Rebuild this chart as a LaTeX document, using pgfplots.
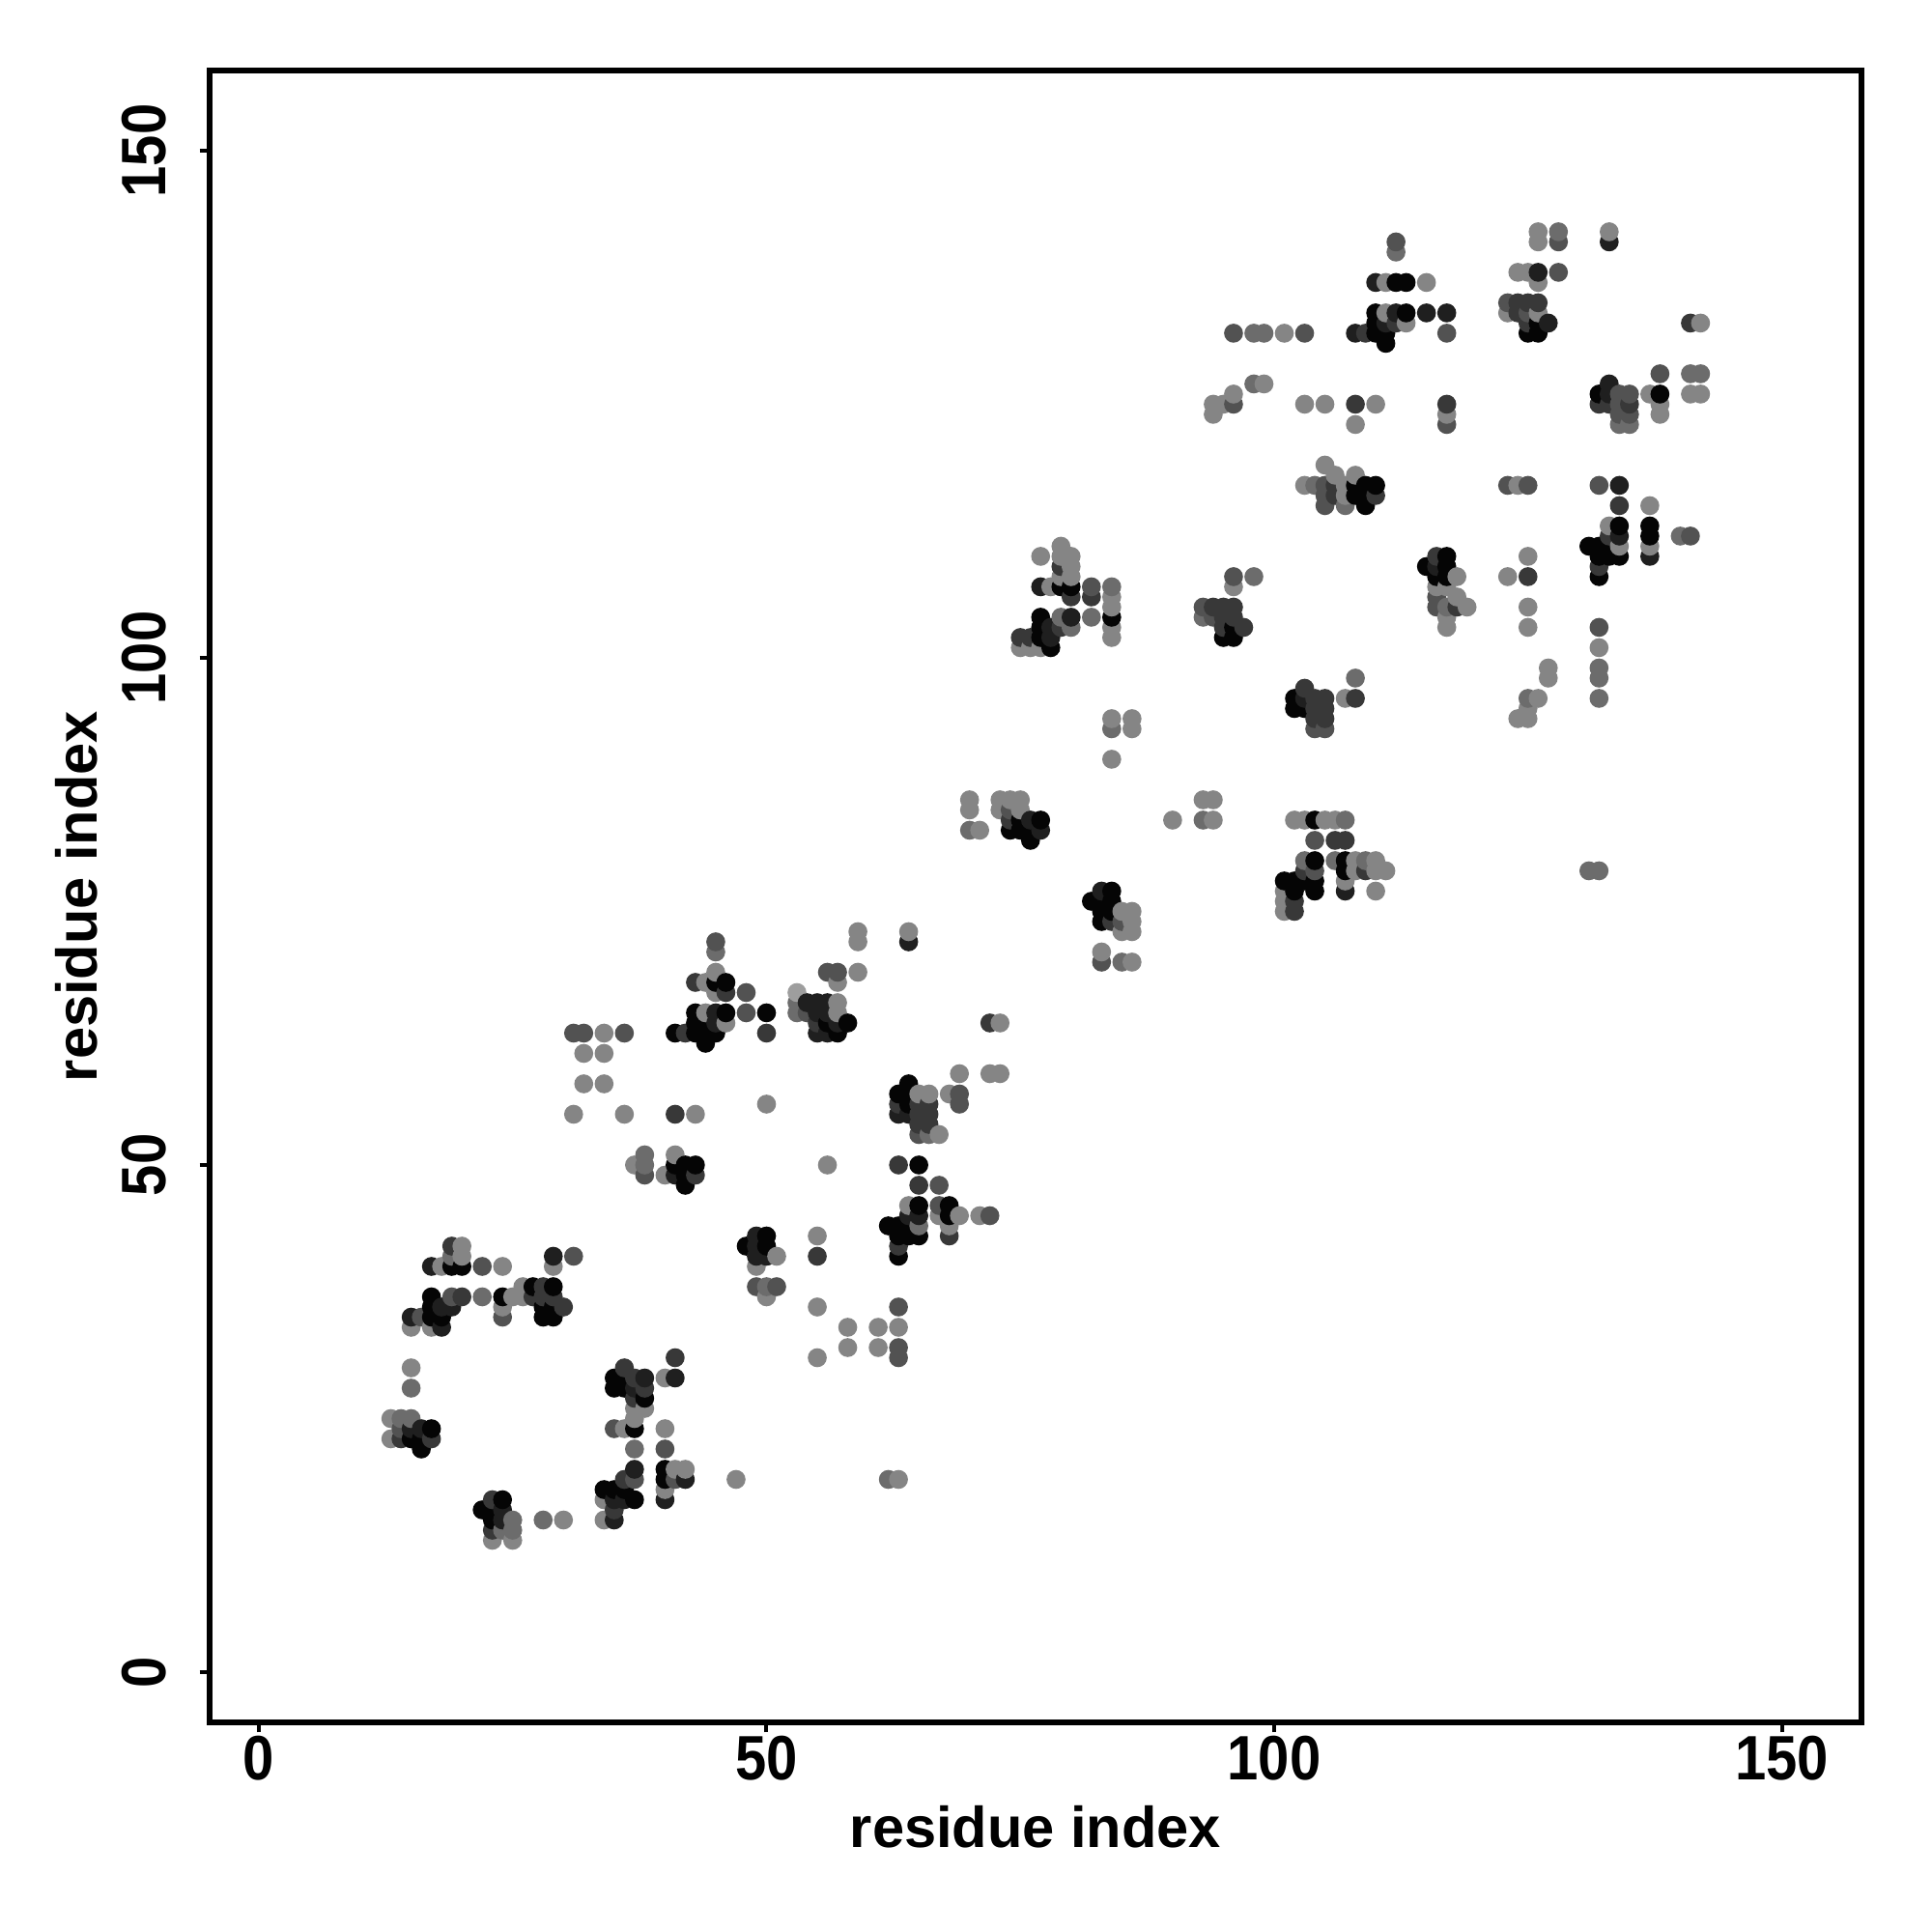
\documentclass[border=0pt]{standalone}
\usepackage{fontspec}
\setmainfont{Liberation Sans}
\usepackage{graphicx}
\usepackage{pgfplots}
\pgfplotsset{compat=1.18}
\newcommand{\tl}[1]{\scalebox{1}[1.12]{#1}}
\begin{document}
\begin{tikzpicture}
\useasboundingbox (0,0) rectangle (500pt,500pt);
\begin{axis}[
  at={(54.25pt,54.25pt)},anchor=south west,
  scale only axis,width=427.5pt,height=427.5pt,
  xmin=-4.85,xmax=157.85,ymin=-4.95,ymax=157.9,
  every tick/.style={black,line width=1pt},
  tick align=outside,major tick length=2.6pt,
  xtick={0,50,100,150},ytick={0,50,100,150},
  xticklabels={\tl{0},\tl{50},\tl{100},\tl{150}},
  yticklabels={\tl{0},\tl{50},\tl{100},\tl{150}},
  xtick pos=bottom,ytick pos=left,
  tick label style={font=\fontsize{14.5}{16}\selectfont\bfseries},
  xticklabel style={yshift=2.7pt},
  yticklabel style={rotate=90,anchor=south,yshift=5pt},
  xlabel={residue index},ylabel={residue index},
  label style={font=\fontsize{14.9}{17}\selectfont\bfseries},
  xlabel style={at={(axis description cs:0.5,-0.0632)},anchor=center},
  ylabel style={at={(axis description cs:-0.0805,0.5)},anchor=center},
  colormap={gs}{gray(0cm)=(0.02); gray(6cm)=(0.62)},
  point meta min=0,point meta max=6,
  clip mode=individual,
]
\addplot[scatter,only marks,mark=*,mark size=2.25pt,
  scatter/use mapped color={draw=mapped color,fill=mapped color},
  point meta=explicit] table[x=i,y=j,meta=g] {
i j g
13 23 5
13 25 5
14 23 2
14 24 3
14 25 4
15 23 0
15 24 1
15 25 4
15 28 4
15 30 5
15 34 5
15 35 1
16 22 0
16 23 0
16 24 1
16 35 3
17 23 2
17 24 0
17 34 5
17 35 0
17 36 0
17 37 0
17 40 1
18 34 1
18 35 0
18 36 1
18 40 5
19 36 1
19 37 3
19 40 0
19 41 4
19 42 2
20 37 2
20 40 0
20 41 5
20 42 5
22 16 0
22 37 4
22 40 3
23 13 5
23 14 2
23 15 0
23 16 0
23 17 2
24 14 4
24 15 1
24 16 1
24 17 0
24 35 3
24 36 5
24 37 0
24 40 5
25 13 5
25 14 4
25 15 4
25 37 5
26 37 5
26 38 5
27 37 2
27 38 0
28 15 4
28 35 0
28 36 0
28 37 2
28 38 2
29 35 0
29 36 0
29 37 2
29 38 0
29 40 5
29 41 1
30 15 5
30 36 2
31 41 3
31 55 5
31 63 3
32 58 5
32 61 5
32 63 3
34 15 5
34 17 5
34 18 0
34 58 5
34 61 5
34 63 5
35 15 1
35 16 2
35 17 1
35 18 0
35 24 3
35 28 0
35 29 0
36 17 1
36 18 0
36 19 2
36 24 5
36 28 0
36 29 0
36 30 2
36 55 5
36 63 3
37 17 0
37 19 3
37 20 1
37 22 4
37 24 0
37 25 5
37 26 5
37 27 2
37 28 1
37 29 2
37 50 5
38 26 5
38 27 0
38 28 2
38 29 1
38 49 3
38 50 4
38 51 4
40 17 1
40 18 5
40 19 0
40 20 0
40 22 3
40 24 5
40 29 5
40 49 5
41 19 3
41 20 5
41 29 1
41 31 2
41 49 1
41 50 0
41 51 5
41 55 2
41 63 0
42 19 1
42 20 5
42 48 0
42 49 0
42 50 0
42 63 2
43 49 2
43 50 0
43 55 5
43 63 0
43 64 0
43 65 0
43 68 2
44 62 0
44 63 0
44 64 0
44 65 5
44 68 5
45 63 0
45 64 1
45 65 1
45 67 5
45 68 0
45 69 5
45 71 4
45 72 3
46 64 5
46 65 0
46 67 2
46 68 0
47 19 5
48 42 0
48 65 3
48 67 3
49 38 3
49 40 5
49 41 1
49 42 1
49 43 1
50 37 5
50 38 4
50 41 1
50 42 0
50 43 0
50 56 5
50 63 2
50 65 0
51 38 3
51 41 5
53 65 4
53 66 4
53 67 6
54 65 3
54 66 1
55 31 5
55 36 5
55 41 2
55 43 5
55 63 1
55 64 2
55 65 1
55 66 1
56 50 5
56 63 1
56 64 0
56 65 1
56 66 1
56 69 3
57 63 0
57 64 1
57 65 5
57 66 5
57 68 5
57 69 3
58 32 5
58 34 5
58 64 0
59 69 5
59 72 5
59 73 5
61 32 5
61 34 5
62 19 4
62 44 0
63 19 5
63 31 3
63 32 3
63 34 5
63 36 3
63 41 0
63 42 2
63 43 0
63 44 0
63 50 2
63 55 1
63 56 2
63 57 0
64 43 0
64 44 0
64 45 1
64 46 5
64 55 1
64 56 0
64 57 0
64 58 0
64 72 1
64 73 5
65 43 0
65 44 4
65 45 1
65 46 0
65 48 2
65 50 0
65 53 3
65 54 2
65 55 2
65 56 2
65 57 5
66 53 4
66 54 2
66 55 2
66 56 2
66 57 5
67 45 5
67 46 3
67 48 3
67 53 5
68 43 2
68 44 5
68 45 0
68 46 0
68 57 5
69 45 5
69 56 3
69 57 3
69 59 5
70 83 4
70 85 5
70 86 5
71 45 5
71 83 5
72 45 3
72 59 5
72 64 2
73 59 5
73 64 5
73 85 5
73 86 5
74 83 0
74 84 2
74 85 3
74 86 5
75 83 0
75 84 0
75 85 5
75 86 5
75 101 5
75 102 2
76 82 0
76 83 0
76 84 1
76 101 5
76 102 2
77 83 1
77 84 0
77 101 5
77 102 0
77 103 0
77 104 0
77 107 1
77 110 5
78 101 0
78 102 1
78 103 1
78 107 5
79 103 2
79 104 4
79 107 0
79 108 5
79 109 2
79 110 5
79 111 5
80 103 4
80 104 1
80 106 2
80 107 0
80 108 5
80 109 5
80 110 5
82 76 0
82 104 4
82 106 2
82 107 3
83 70 3
83 71 5
83 74 0
83 75 0
83 76 0
83 77 1
84 74 2
84 75 0
84 76 0
84 77 0
84 90 5
84 93 4
84 94 5
84 102 5
84 103 5
84 104 0
84 105 5
84 106 5
84 107 4
85 70 4
85 73 5
85 74 3
85 75 5
86 70 5
86 73 5
86 74 5
86 75 5
86 93 5
86 94 5
90 84 5
93 84 4
93 86 5
93 104 4
93 105 3
94 84 5
94 86 5
94 104 3
94 105 2
94 124 5
94 125 5
95 102 0
95 103 2
95 104 2
95 105 2
95 125 5
96 102 0
96 103 0
96 104 2
96 105 2
96 107 5
96 108 3
96 125 3
96 126 5
96 132 3
97 103 2
98 108 4
98 127 4
98 132 4
99 127 5
99 132 4
101 75 5
101 76 5
101 77 5
101 78 0
101 132 5
102 75 2
102 76 2
102 77 0
102 78 0
102 84 5
102 95 0
102 96 0
103 78 0
103 79 2
103 80 4
103 84 5
103 95 0
103 96 1
103 97 2
103 117 5
103 125 5
103 132 3
104 77 0
104 78 0
104 79 3
104 80 0
104 82 3
104 84 0
104 93 3
104 94 2
104 95 2
104 96 2
104 117 4
105 84 5
105 93 3
105 94 2
105 95 2
105 96 2
105 115 3
105 116 3
105 117 3
105 119 5
105 125 5
106 80 4
106 82 2
106 84 5
106 116 2
106 117 2
106 118 5
107 77 1
107 78 5
107 79 0
107 80 0
107 82 2
107 84 4
107 96 5
107 115 4
107 116 5
107 117 5
108 79 5
108 80 5
108 96 2
108 98 4
108 116 0
108 117 0
108 118 5
108 123 5
108 125 2
108 132 1
109 79 2
109 80 4
109 115 0
109 116 0
109 117 0
109 132 2
110 77 5
110 79 5
110 80 5
110 116 2
110 117 0
110 125 5
110 132 0
110 133 0
110 134 0
110 137 1
111 79 5
111 131 0
111 132 0
111 133 1
111 134 5
111 137 5
112 133 2
112 134 1
112 137 0
112 140 4
112 141 3
113 133 5
113 134 0
113 137 0
115 109 0
115 134 1
115 137 5
116 105 3
116 106 3
116 107 5
116 108 0
116 109 1
116 110 2
117 103 5
117 104 5
117 105 4
117 107 5
117 108 0
117 109 0
117 110 0
117 123 3
117 124 5
117 125 2
117 132 3
117 134 1
118 105 2
118 106 5
118 108 5
119 105 5
123 108 5
123 117 3
123 134 5
123 135 3
124 94 5
124 117 5
124 134 2
124 135 2
124 138 5
125 94 5
125 95 5
125 96 4
125 103 5
125 105 5
125 108 2
125 110 5
125 117 3
125 132 0
125 133 2
125 134 3
125 135 2
125 138 5
126 96 5
126 132 0
126 133 0
126 134 5
126 135 2
126 137 5
126 138 1
126 141 5
126 142 5
127 98 5
127 99 5
127 133 1
128 138 3
128 141 3
128 142 4
131 79 4
131 111 0
132 79 4
132 96 4
132 98 4
132 99 4
132 101 5
132 103 3
132 108 0
132 109 2
132 110 0
132 111 0
132 117 3
132 125 2
132 126 0
133 110 0
133 111 0
133 112 2
133 113 5
133 125 2
133 126 1
133 127 1
133 141 1
133 142 5
134 110 0
134 111 5
134 112 1
134 113 0
134 115 2
134 117 1
134 123 4
134 124 3
134 125 3
134 126 3
135 123 4
135 124 3
135 125 2
135 126 3
137 110 1
137 111 5
137 112 0
137 113 0
137 115 5
137 126 5
138 124 5
138 125 5
138 126 0
138 128 3
140 112 4
141 112 3
141 126 5
141 128 4
141 133 2
142 126 5
142 128 4
142 133 5
};
\draw[line width=1.6pt] (rel axis cs:0,0) rectangle (rel axis cs:1,1);
\end{axis}
\end{tikzpicture}
\end{document}
